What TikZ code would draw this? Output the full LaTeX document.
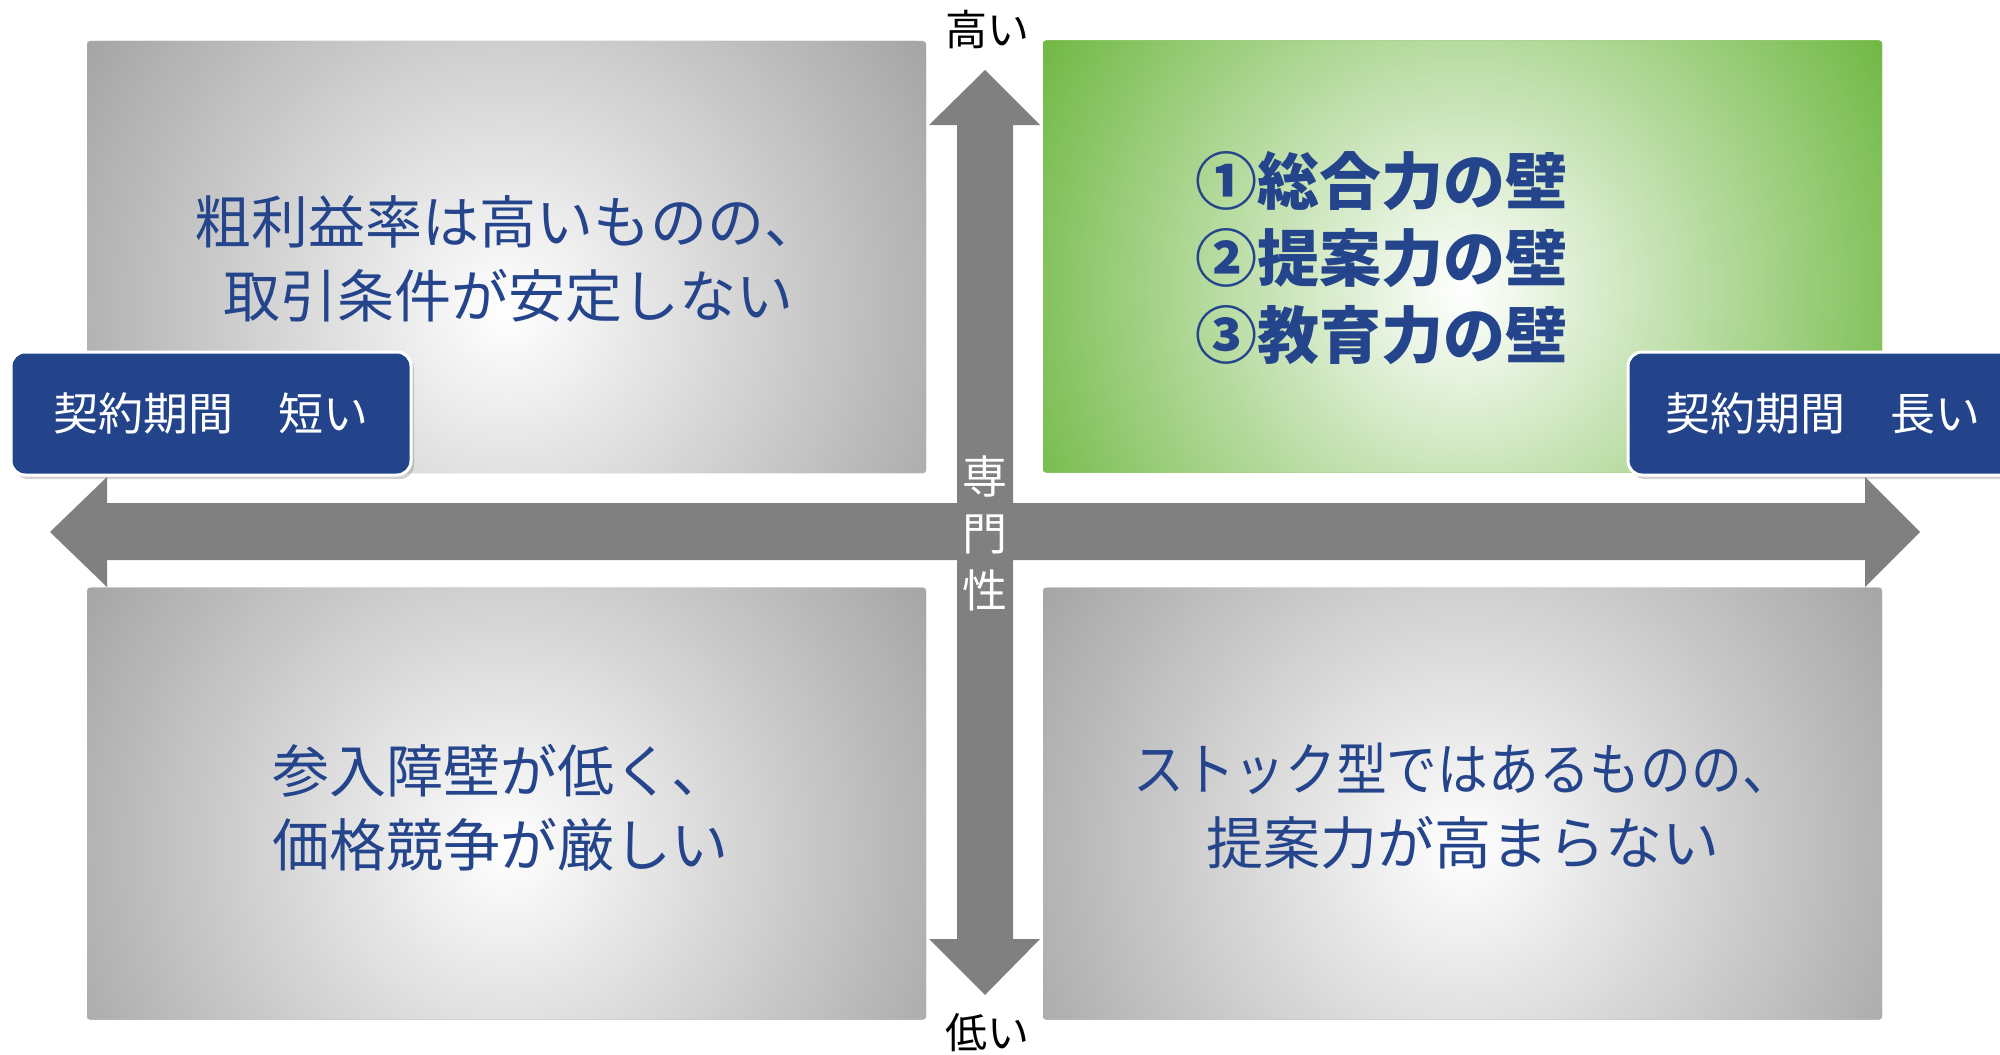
\documentclass[tikz,border=0pt]{standalone}
\usepackage{fontspec}
\setmainfont{Noto Sans CJK JP}
\usetikzlibrary{shadows}
\definecolor{qgray}{HTML}{A6A6A6}
\definecolor{qgreen}{HTML}{70B843}
\definecolor{navy}{HTML}{23448A}
\definecolor{txtblue}{HTML}{24448B}
\definecolor{axisgray}{HTML}{808080}
\begin{document}
\begin{tikzpicture}[x=0.5pt,y=-0.5pt,
  quadbox/.style 2 args={minimum width=419.5pt, minimum height=216pt, inner sep=0pt,
    rounded corners=1.5pt, fill=#2,
    path picture={\shade[inner color=white, outer color=#2]
      ([yshift=#1]path picture bounding box.center) circle[radius=245pt];}},
  quadtext/.style={text=txtblue, align=center, inner sep=0pt,
    font=\fontsize{28.5}{37}\selectfont},
  labelbox/.style={fill=navy, draw=white, line width=1.5pt, rounded corners=7pt,
    text=white, inner sep=0pt, minimum height=61.5pt,
    font=\fontsize{22.5}{27}\selectfont,
    drop shadow={shadow xshift=1.5pt, shadow yshift=-2pt, opacity=0.35}},
  axislabel/.style={text=black, inner sep=0pt, font=\fontsize{21}{25}\selectfont}]
\useasboundingbox (0,0) rectangle (2000,1054);
\fill[white] (0,0) rectangle (2000,1054);

% axes
\fill[axisgray] (985,70) -- (1040,125) -- (1013,125) -- (1013,939) -- (1040,939)
  -- (985,995) -- (929,939) -- (957,939) -- (957,125) -- (929,125) -- cycle;
\fill[axisgray] (50,532) -- (107,477) -- (107,503) -- (1865,503) -- (1865,477)
  -- (1920,532) -- (1865,587) -- (1865,560) -- (107,560) -- (107,587) -- cycle;

% quadrants
\node[quadbox={-27pt}{qgray}] (tl) at (506.5,257) {};
\node[quadbox={-17pt}{qgreen}] (tr) at (1462.5,256.5) {};
\node[quadbox={-22.5pt}{qgray}] (bl) at (506.5,803.5) {};
\node[quadbox={-22.5pt}{qgray}] (br) at (1462.5,803.5) {};

\node[quadtext] (tltext) at (508,258.5) {粗利益率は高いものの、\\取引条件が安定しない};
\node[quadtext] (bltext) at (500,807.5) {参入障壁が低く、\\価格競争が厳しい};
\node[quadtext] (brtext) at (1463,806.5) {\scalebox{0.89}[1]{ストック型ではあるものの、}\\提案力が高まらない};
\node[quadtext, align=left, font=\fontsize{31}{38.5}\selectfont\bfseries] (trtext) at (1381,258.5)
  {①総合力の壁\\②提案力の壁\\③教育力の壁};

% axis labels
\node[axislabel] (high) at (987,30) {高い};
\node[axislabel] (low) at (987,1033) {低い};
\node[text=white, inner sep=0pt, align=center, font=\fontsize{22.5}{28.5}\selectfont] (senmon) at (985,533)
  {専\\門\\性};

% contract labels
\node[labelbox, minimum width=200pt] (short) at (211,413.5) {契約期間　短い};
\node[labelbox, minimum width=195pt] (long) at (1823,413.5) {契約期間　長い};
\end{tikzpicture}
\end{document}
